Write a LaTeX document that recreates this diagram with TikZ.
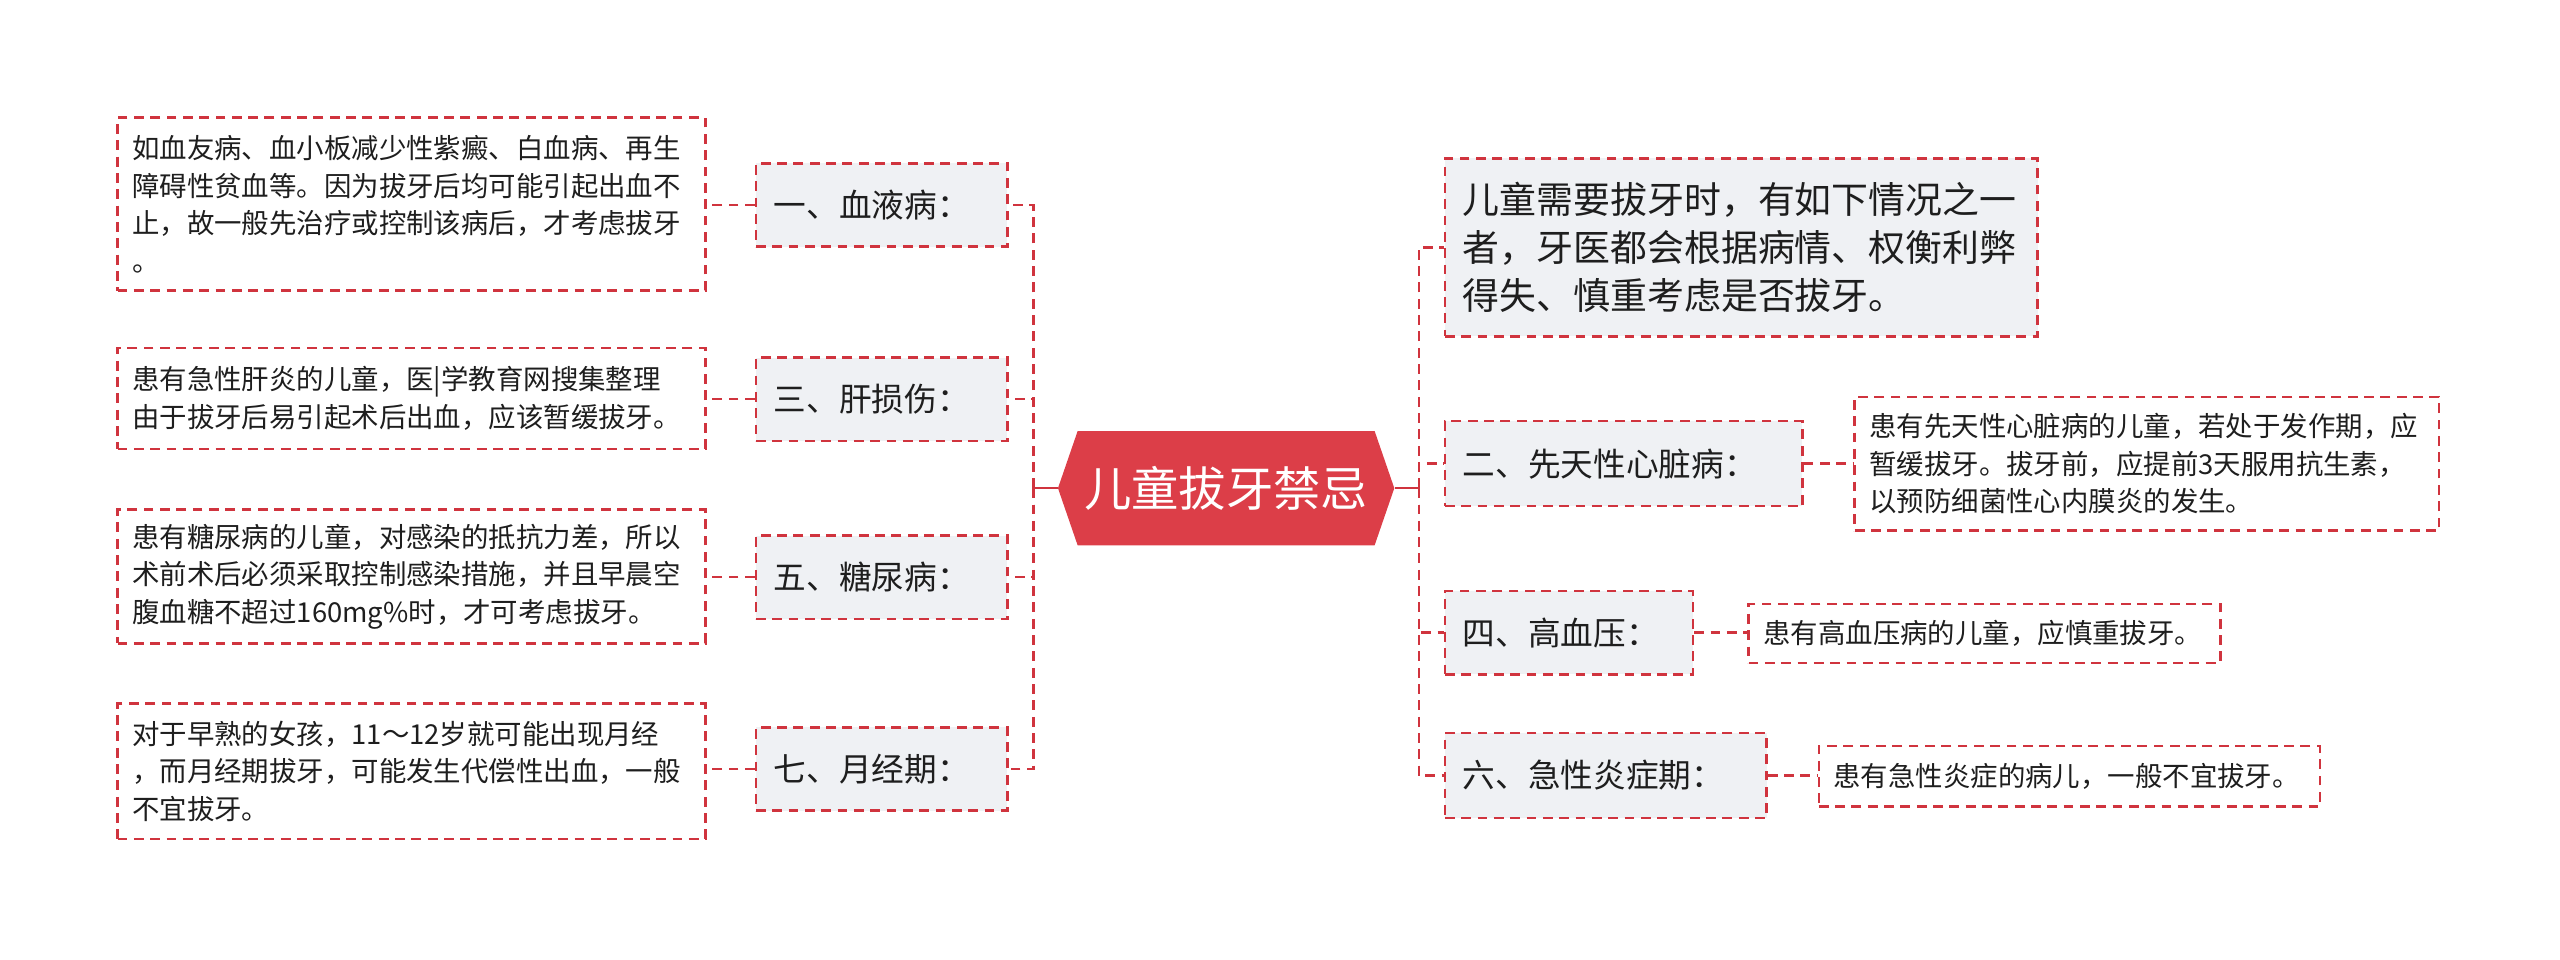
\documentclass[tikz,border=0pt]{standalone}
\usepackage{fontspec}
\setmainfont{Noto Sans CJK SC}
\usetikzlibrary{shapes.symbols}
\definecolor{lred}{RGB}{208,52,62}
\definecolor{hexred}{RGB}{220,62,72}
\definecolor{subgray}{RGB}{239,241,244}
\definecolor{txt}{RGB}{30,30,30}
\tikzset{
  link/.style={draw=lred, line width=1.5pt, dash pattern=on 6pt off 4pt},
  leaf/.style={draw=lred, line width=1.5pt, dash pattern=on 6pt off 4pt, fill=white,
    align=left, inner xsep=9pt, inner ysep=0pt, text=txt,
    font=\fontsize{16.8}{23}\selectfont},
  subbox/.style={draw=lred, line width=1.5pt, dash pattern=on 6pt off 4pt, fill=subgray,
    align=left, inner xsep=11pt, inner ysep=0pt, text=txt, minimum height=51pt,
    font=\fontsize{20}{24}\selectfont},
}
\begin{document}
\begin{tikzpicture}[x=1pt,y=-1pt]
\useasboundingbox (0,0) rectangle (1568,587.4);
% root
\node[signal, signal to=east and west, signal pointer angle=142, fill=hexred, draw=none,
  minimum width=206pt, minimum height=70pt, inner sep=0pt, text=white,
  font=\fontsize{29}{34}\selectfont] (root) at (751,299) {儿童拔牙禁忌};
% left side
\node[subbox, text width=132pt] (L1) at (540,125.5) {一、血液病：};
\node[subbox, text width=132pt] (L3) at (540,244.5) {三、肝损伤：};
\node[subbox, text width=132pt] (L5) at (540,353.5) {五、糖尿病：};
\node[subbox, text width=132pt] (L7) at (540,471) {七、月经期：};
\node[leaf, text width=342pt, minimum height=106pt] (D1) at (252,125) {如血友病、血小板减少性紫癜、白血病、再生\\障碍性贫血等。因为拔牙后均可能引起出血不\\止，故一般先治疗或控制该病后，才考虑拔牙\\。};
\node[leaf, text width=342pt, minimum height=62pt] (D3) at (252,244) {患有急性肝炎的儿童，医|学教育网搜集整理\\由于拔牙后易引起术后出血，应该暂缓拔牙。};
\node[leaf, text width=342pt, minimum height=82pt] (D5) at (252,353) {患有糖尿病的儿童，对感染的抵抗力差，所以\\术前术后必须采取控制感染措施，并且早晨空\\腹血糖不超过160mg\%时，才可考虑拔牙。};
\node[leaf, text width=342pt, minimum height=83pt] (D7) at (252,472.5) {对于早熟的女孩，11～12岁就可能出现月经\\，而月经期拔牙，可能发生代偿性出血，一般\\不宜拔牙。};
% right side
\node[subbox, text width=341pt, minimum height=109pt,
  font=\fontsize{22.6}{29.5}\selectfont] (R1) at (1066.5,151.5) {儿童需要拔牙时，有如下情况之一\\者，牙医都会根据病情、权衡利弊\\得失、慎重考虑是否拔牙。};
\node[subbox, text width=197pt, minimum height=52pt] (R2) at (994.5,284) {二、先天性心脏病：};
\node[subbox, text width=130pt] (R4) at (961,387.5) {四、高血压：};
\node[subbox, text width=175pt, minimum height=52pt] (R6) at (983.5,475) {六、急性炎症期：};
\node[leaf, text width=340pt, minimum height=82pt] (D2) at (1315,284) {患有先天性心脏病的儿童，若处于发作期，应\\暂缓拔牙。拔牙前，应提前3天服用抗生素，\\以预防细菌性心内膜炎的发生。};
\node[leaf, text width=271pt, minimum height=36pt] (D4) at (1215.5,388) {患有高血压病的儿童，应慎重拔牙。};
\node[leaf, text width=289pt, minimum height=37pt] (D6) at (1267.5,475.5) {患有急性炎症的病儿，一般不宜拔牙。};
% connectors
\coordinate (lbus) at (633,299);
\coordinate (rbus) at (869,299);
\draw[lred, line width=1.5pt] (root.west) -- (lbus);
\draw[lred, line width=1.5pt] (root.east) -- (rbus);
\foreach \n in {L1,L3,L5,L7} {\draw[link] (lbus) |- (\n.east);}
\foreach \n in {R1,R2,R4,R6} {\draw[link] (rbus) |- (\n.west);}
\draw[link] (L1.west) -- (L1.west -| D1.east);
\draw[link] (L3.west) -- (L3.west -| D3.east);
\draw[link] (L5.west) -- (L5.west -| D5.east);
\draw[link] (L7.west) -- (L7.west -| D7.east);
\draw[link] (R2.east) -- (R2.east -| D2.west);
\draw[link] (R4.east) -- (R4.east -| D4.west);
\draw[link] (R6.east) -- (R6.east -| D6.west);
\end{tikzpicture}
\end{document}
